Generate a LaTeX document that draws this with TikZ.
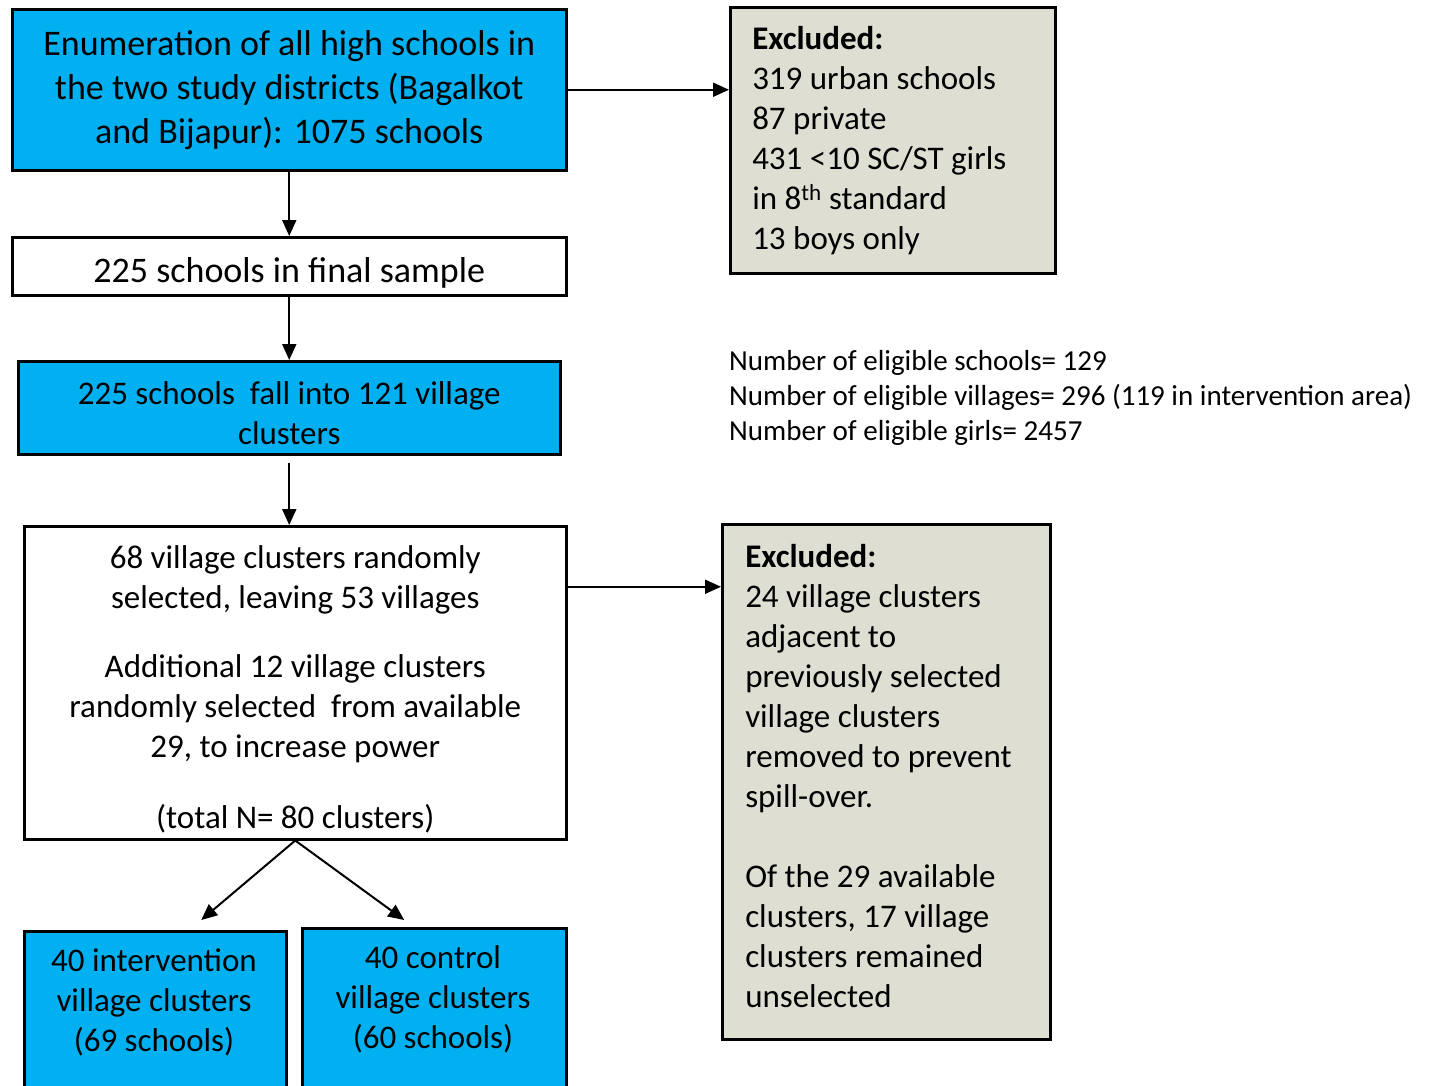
\documentclass[tikz,border=0pt]{standalone}
\usepackage{fontspec}
\setmainfont{Carlito}
\usetikzlibrary{arrows.meta, positioning}
\definecolor{boxblue}{RGB}{0,176,240}
\definecolor{exclgray}{RGB}{222,222,210}

\begin{document}
\begin{tikzpicture}[x=1pt, y=-1pt, font=\fontsize{33}{40}\selectfont,
  box/.style={draw, line width=2.5pt, align=center, inner sep=0pt},
  bluebox/.style={box, fill=boxblue},
  exclbox/.style={draw, line width=2.5pt, fill=exclgray, align=flush left, inner ysep=0pt},
  arr/.style={-{Triangle[length=16pt,width=14pt]}, line width=2pt}]

\useasboundingbox (0,0) rectangle (1437,1085);
\clip (0,0) rectangle (1437,1085);

\node[bluebox, minimum width=554, minimum height=161, anchor=north west, font=\fontsize{36}{44}\selectfont] (enum) at (11,8)
  {Enumeration of all high schools in\\the two study districts (Bagalkot\\and Bijapur): 1075 schools};
\node[box, minimum width=554, minimum height=58, anchor=north west, font=\fontsize{36}{44}\selectfont] (sample) at (11,236)
  {\rule{0pt}{38pt}225 schools in final sample};
\node[bluebox, minimum width=542, minimum height=93, anchor=north west] (village) at (17,360)
  {\rule{0pt}{34pt}225 schools\ \ fall into 121 village\\clusters};
\node[box, minimum width=542, minimum height=313, anchor=north west] (rand) at (23,525)
  {\rule{0pt}{36pt}68 village clusters randomly\\selected, leaving 53 villages\\[29pt]
   Additional 12 village clusters\\randomly selected\ \ from available\\29, to increase power\\[31pt]
   (total N= 80 clusters)};

% arms
\node[bluebox, minimum width=262, minimum height=200, anchor=north west] (interv) at (23,930) {};
\node (intervtext) at (154,1002) [align=center] {40 intervention\\village clusters\\(69 schools)};
\node[bluebox, minimum width=264, minimum height=200, anchor=north west] (ctl) at (301,927) {};
\node (ctltext) at (433,999) [align=center] {40 control\\village clusters\\(60 schools)};

% exclusions
\node[exclbox, minimum width=325, minimum height=266, anchor=north west, text width=281, inner xsep=22] (excl1) at (729,6)
  {\textbf{Excluded:}\\319 urban schools\\87 private\\431 <10 SC/ST girls\\in 8\textsuperscript{th} standard\\13 boys only};
\node[exclbox, minimum width=328, minimum height=515, anchor=north west, text width=282, inner xsep=23] (excl2) at (721,523)
  {\textbf{Excluded:}\\24 village clusters\\adjacent to\\previously selected\\village clusters\\removed to prevent\\spill-over.\\[40pt]
   Of the 29 available\\clusters, 17 village\\clusters remained\\unselected\rule[-12pt]{0pt}{12pt}};

\node[anchor=west, align=left, inner sep=0pt, font=\fontsize{29}{35}\selectfont] (elig) at (729,398)
  {Number of eligible schools= 129\\Number of eligible villages= 296 (119 in intervention area)\\Number of eligible girls= 2457};

\draw[arr] (enum) -- (sample);
\draw[arr] (sample) -- (village);
\draw[arr] ([yshift=-7pt]village.south) -- (village.south |- rand.north);
\draw[arr] (enum.east) -- (enum.east -| excl1.west);
\draw[arr] ([yshift=96pt]rand.east) -- ([yshift=96pt]rand.east -| excl2.west);
\draw[arr] (rand.south) -- ([xshift=46pt,yshift=10pt]interv.north);
\draw[arr] (rand.south) -- ([xshift=-30pt,yshift=7pt]ctl.north);
\end{tikzpicture}
\end{document}
